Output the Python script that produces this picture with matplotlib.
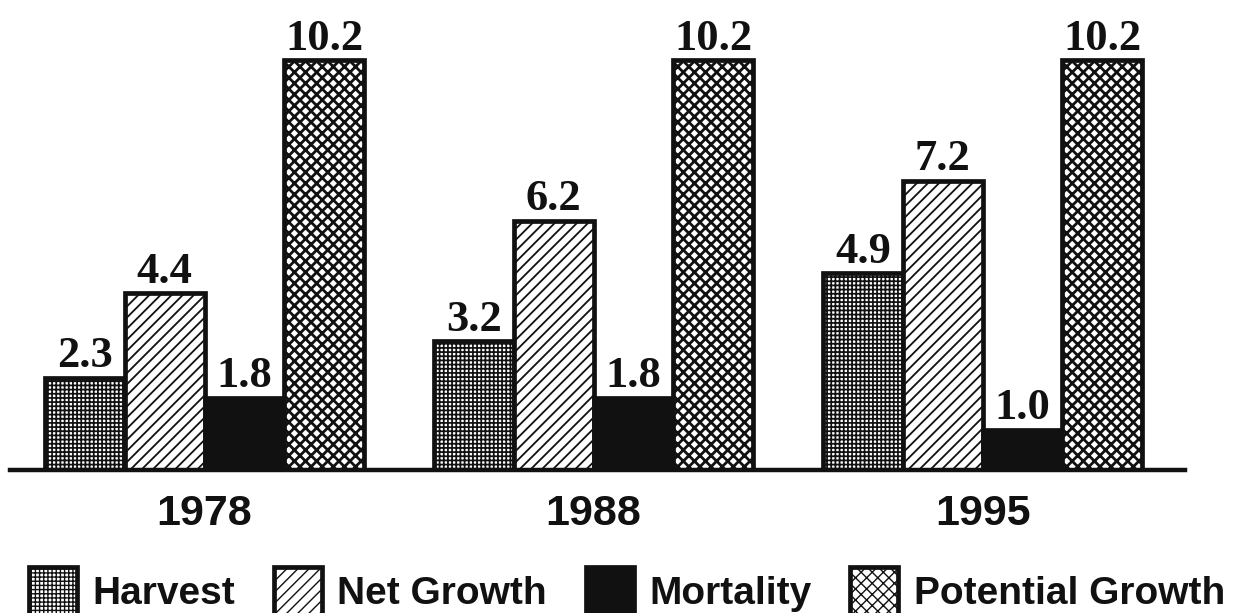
import numpy as np
import matplotlib
matplotlib.use('Agg')
import matplotlib.pyplot as plt

# Data
years = ['1978', '1988', '1995']
series = ['Harvest', 'Net Growth', 'Mortality', 'Potential Growth']
harvest = [2.3, 3.2, 4.9]
net_growth = [4.4, 6.2, 7.2]
mortality = [1.8, 1.8, 1.0]
potential = [10.2, 10.2, 10.2]

values = [harvest, net_growth, mortality, potential]
hatches = ['++++', '///', None, 'xxx']
faces = ['white', 'white', '#111111', 'white']
hatch_lw = [1.25, 1.3, 1.0, 2.0]

fig = plt.figure(figsize=(12.48, 6.13), dpi=100)
ax = fig.add_axes([10 / 1248, 1 - 470 / 613, 1175 / 1248, 450 / 613])

x = np.arange(len(years))
width = 0.205
offsets = (np.arange(4) - 1.5) * width

handles = []
for i, (vals, name) in enumerate(zip(values, series)):
    with plt.rc_context({'hatch.linewidth': hatch_lw[i]}):
        bars = ax.bar(x + offsets[i], vals, width, facecolor=faces[i],
                      edgecolor='#111111', linewidth=3.4, hatch=hatches[i],
                      label=name, zorder=2)
    handles.append(bars)
    for rect, v in zip(bars, vals):
        ax.annotate(f'{v:.1f}', (rect.get_x() + rect.get_width() / 2, v),
                    xytext=(0, 7.5), textcoords='offset points',
                    ha='center', va='baseline', fontsize=32,
                    fontweight='bold', family='Liberation Serif',
                    color='#111111')

ax.set_xlim(-0.5, 2.52)
ax.set_ylim(0, 450 / 40.2)
for s in ['top', 'left', 'right']:
    ax.spines[s].set_visible(False)
ax.spines['bottom'].set_linewidth(3.2)
ax.spines['bottom'].set_color('#111111')
ax.spines['bottom'].set_zorder(3)
ax.set_yticks([])
ax.set_xticks(x)
ax.set_xticklabels(years, fontsize=31, fontweight='bold',
                   family='Liberation Sans', color='#111111')
ax.tick_params(axis='x', length=0, pad=17)

leg = fig.legend(handles=handles, labels=series, loc='lower left',
                 bbox_to_anchor=(29 / 1248, -0.006), ncol=4, frameon=False,
                 prop={'family': 'Liberation Sans', 'weight': 'bold', 'size': 28},
                 handlelength=1.23, handleheight=1.6, handletextpad=0.4,
                 columnspacing=1.0, borderpad=0, borderaxespad=0)
for t in leg.get_texts():
    t.set_color('#111111')

fig.savefig('out.png', dpi=100)
